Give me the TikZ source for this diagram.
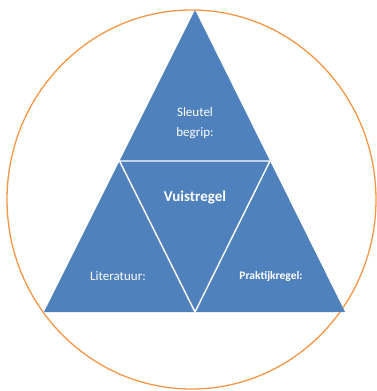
\documentclass[tikz,border=0pt]{standalone}
\usepackage{fontspec}
\setmainfont{Carlito}
\definecolor{triblue}{HTML}{4F81BD}
\definecolor{ringorange}{HTML}{F79646}
\tikzset{
  lbl/.style={text=white, font=\fontsize{13}{20.5}\selectfont, align=center, inner sep=0pt},
  lblb/.style={text=white, font=\fontsize{11.5}{14}\selectfont\bfseries, inner sep=0pt},
  title/.style={text=white, font=\fontsize{15}{18}\selectfont\bfseries, inner sep=0pt},
  divider/.style={draw=white, line width=1.4pt, line join=miter},
  ring/.style={draw=ringorange, line width=1.3pt}
}
\begin{document}
\begin{tikzpicture}[x=1pt,y=-1pt]
\useasboundingbox (0,0) rectangle (377,391);
\clip (0,0) rectangle (377,391);
% ring
\draw[ring] (191.5,199.5) ellipse [x radius=184.5, y radius=189.5];
% vertices
\coordinate (apex) at (195,10);
\coordinate (bl) at (44,312);
\coordinate (br) at (345,312);
\coordinate (ml) at (119.5,161);
\coordinate (mr) at (270,161);
\coordinate (mb) at (195,312);
% big triangle
\fill[triblue] (apex) -- (br) -- (bl) -- cycle;
% inner inverted triangle dividers
\draw[divider] (ml) -- (mr) -- (mb) -- cycle;
% labels
\node[lbl] (sleutel) at (195,123) {Sleutel\\begrip:};
\node[title] (vuist) at (195,198) {Vuistregel};
\node[lbl] (lit) at (118,276) {Literatuur:};
\node[lblb] (prak) at (271,276) {Praktijkregel:};
\end{tikzpicture}
\end{document}
